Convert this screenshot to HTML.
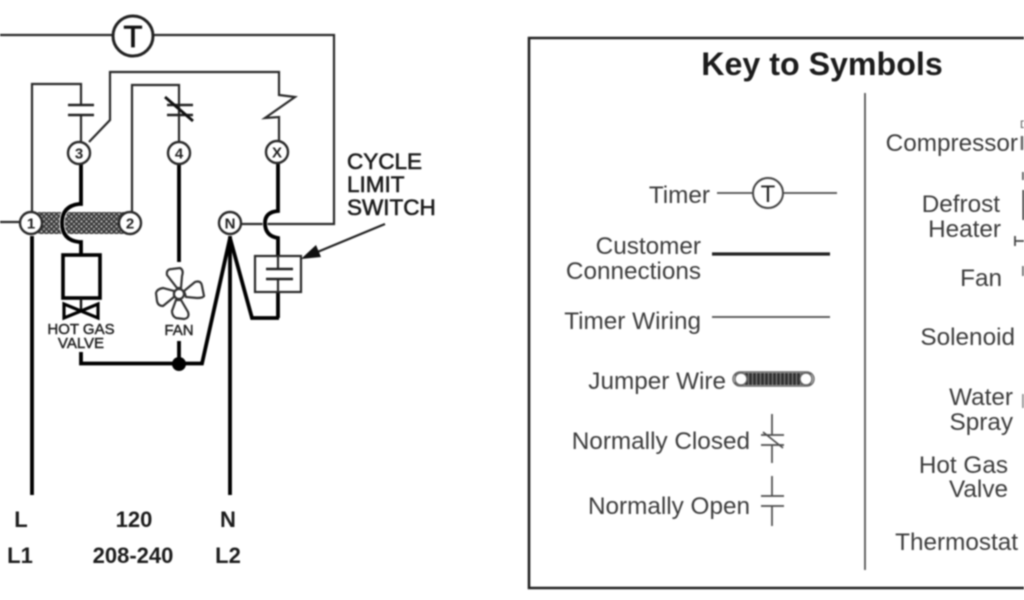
<!DOCTYPE html>
<html><head><meta charset="utf-8"><style>
html,body{margin:0;padding:0;background:#fff;width:1024px;height:600px;overflow:hidden}
svg{display:block;filter:blur(0.7px)}
text{font-family:"Liberation Sans",sans-serif}
.k{font-size:24.3px;fill:#3c3c3c}
.b{font-size:22px;font-weight:bold;fill:#1c1c1c;text-anchor:middle}
.s{font-size:15px;fill:#222;text-anchor:middle;stroke:#222;stroke-width:.45}
.c{font-size:15px;font-weight:bold;fill:#222;text-anchor:middle}
.cy{font-size:22.500px;fill:#1c1c1c;stroke:#1c1c1c;stroke-width:.6}
.t{fill:none;stroke:#2a2a2a;stroke-width:2.200}
.h{fill:none;stroke:#000;stroke-width:3.800}
.o{fill:#fff;stroke:#2a2a2a;stroke-width:2.400}
.g{fill:none;stroke:#4c4c4c;stroke-width:1.700}
</style></head><body>
<svg width="1024" height="600" viewBox="0 0 1024 600" xmlns="http://www.w3.org/2000/svg">
<defs><pattern id="p" width="5" height="5" patternUnits="userSpaceOnUse"><rect width="5" height="5" fill="#3a3a3a"/><circle cx="1.500" cy="1.500" r="1.100" fill="#bbb"/><circle cx="4" cy="4" r="1.100" fill="#aaa"/></pattern>
<pattern id="q" width="4" height="4" patternUnits="userSpaceOnUse"><rect width="4" height="4" fill="#333"/><rect x="0" y="0" width="1" height="4" fill="#888"/></pattern></defs>
<rect width="1024" height="600" fill="#fff"/>
<!-- timer loop -->
<path class="t" d="M0 35H112M154 35H334V224H242"/>
<circle cx="133" cy="36" r="20" fill="#fff" stroke="#222" stroke-width="3"/>
<text x="133" y="47" text-anchor="middle" style="font-size:31px;fill:#111;stroke:#111;stroke-width:.8">T</text>
<!-- wiring -->
<path class="t" d="M32 212V84H81V105M81 115V142"/>
<path d="M68 105H94M68 115H94" fill="none" stroke="#222" stroke-width="2.600"/>
<path class="t" d="M132 212V85H179V142"/>
<path d="M167 105H193M167 115H193" fill="none" stroke="#222" stroke-width="2.600"/>
<path d="M165 97L193 121" fill="none" stroke="#111" stroke-width="2.800"/>
<path class="t" d="M89 142L110 120V72H279V95L295 97L265 118L279 117V142"/>
<!-- jumper band -->
<rect x="38" y="212" width="92" height="22" fill="url(#p)"/>
<path class="t" d="M0 222H20"/>
<!-- hot gas jump -->
<path d="M81 204H79Q62 206 62 223Q62 240 79 242H81" fill="none" stroke="#fff" stroke-width="5.500"/>
<path class="h" d="M81 164V204H79Q62 206 62 223Q62 240 79 242H81V255"/>
<!-- fan wire -->
<path class="h" d="M179 164V262"/>
<path class="h" d="M32 236V495M230 236V495"/>
<path class="h" d="M179 341V364M81 352V363.500H202L230 238L252 318H279"/>
<circle cx="179" cy="364" r="7" fill="#000"/>
<!-- x jump -->
<path d="M278 211Q265 212 265 223Q265 236 278 238" fill="none" stroke="#fff" stroke-width="5"/>
<path class="h" d="M278 164V211Q265 212 265 223Q265 236 278 238V256M278 292V318"/>
<rect class="t" x="255" y="256" width="46" height="36"/>
<path class="t" d="M278 256V268M278 280V292"/>
<path d="M266 269H293M266 279H293" stroke="#222" stroke-width="2.600"/>
<!-- arrow -->
<path d="M385 224L315 253" stroke="#222" stroke-width="2.200" fill="none"/>
<path d="M301 259L316 245L321 257Z" fill="#111"/>
<!-- hot gas valve -->
<rect x="63" y="255" width="37" height="43" fill="#fff" stroke="#000" stroke-width="3.600"/>
<path d="M81 298V310" stroke="#111" stroke-width="2.400"/>
<path d="M64 304V318L98 304V318Z" fill="#fff" stroke="#000" stroke-width="3.200"/>
<text class="s" x="81" y="334">HOT GAS</text>
<text class="s" x="81" y="348">VALVE</text>
<!-- fan -->
<g fill="#fff" stroke="#333" stroke-width="2.200">
<path d="M177 288L167 275Q166 269 172 269L180 268Q184 270 182 276L181 288Z"/>
<path d="M184 291L195 282Q201 280 202 286L204 296Q203 298 197 298L186 297Z"/>
<path d="M181 300L188 312Q190 318 184 319L176 318Q172 316 172 311L176 300Z"/>
<path d="M174 297L163 306Q158 306 157 301L156 293Q157 289 163 288L174 291Z"/>
<circle cx="179" cy="294" r="5"/>
</g>
<text class="s" x="179" y="335">FAN</text>
<!-- nodes -->
<g>
<circle class="o" cx="31" cy="223" r="11"/><text class="c" x="31" y="228.500">1</text>
<circle class="o" cx="130" cy="223" r="11"/><text class="c" x="130" y="228.500">2</text>
<circle class="o" cx="79" cy="153" r="11"/><text class="c" x="79" y="158.500">3</text>
<circle class="o" cx="179" cy="153" r="11"/><text class="c" x="179" y="158.500">4</text>
<circle class="o" cx="277" cy="152" r="11"/><text class="c" x="277" y="157.500">X</text>
<circle class="o" cx="230" cy="223" r="11"/><text class="c" x="230" y="228.500">N</text>
</g>
<text class="cy" x="347" y="169">CYCLE</text>
<text class="cy" x="347" y="192">LIMIT</text>
<text class="cy" x="347" y="215">SWITCH</text>
<text class="b" x="21" y="527">L</text>
<text class="b" x="134" y="527">120</text>
<text class="b" x="228" y="527">N</text>
<text class="b" x="20" y="563">L1</text>
<text class="b" x="133" y="563">208-240</text>
<text class="b" x="228" y="563">L2</text>
<!-- key -->
<path d="M1026 38H529V588H1026" fill="none" stroke="#222" stroke-width="2.600"/>
<text x="822" y="75" text-anchor="middle" style="font-size:32.200px;font-weight:bold;fill:#1c1c1c">Key to Symbols</text>
<path d="M865 93V570" stroke="#4c4c4c" stroke-width="1.700"/>
<g text-anchor="end">
<text class="k" x="710" y="203">Timer</text>
<text class="k" x="701" y="254">Customer</text>
<text class="k" x="701" y="279">Connections</text>
<text class="k" x="701" y="329">Timer Wiring</text>
<text class="k" x="726" y="389">Jumper Wire</text>
<text class="k" x="750" y="449">Normally Closed</text>
<text class="k" x="750" y="514">Normally Open</text>
<text class="k" x="1018" y="151">Compressor</text>
<text class="k" x="1000" y="212">Defrost</text>
<text class="k" x="1001" y="237">Heater</text>
<text class="k" x="1002" y="286">Fan</text>
<text class="k" x="1015" y="345">Solenoid</text>
<text class="k" x="1013" y="405">Water</text>
<text class="k" x="1013" y="430">Spray</text>
<text class="k" x="1008" y="473">Hot Gas</text>
<text class="k" x="1008" y="497">Valve</text>
<text class="k" x="1018" y="550">Thermostat</text>
</g>
<path class="g" d="M717 193H753M784 193H837"/>
<circle cx="768" cy="193" r="15" fill="#fff" stroke="#444" stroke-width="2"/>
<text x="768" y="202" text-anchor="middle" style="font-size:24px;fill:#222">T</text>
<path d="M712 254H830" stroke="#222" stroke-width="3.200"/>
<path class="g" d="M712 317H830"/>
<rect x="735" y="373" width="76" height="12" fill="url(#q)"/>
<rect x="733" y="372" width="81" height="14" rx="7" fill="none" stroke="#666" stroke-width="1.400"/>
<circle cx="741" cy="379" r="6" fill="#fff" stroke="#666" stroke-width="1.400"/>
<circle cx="806" cy="379" r="6" fill="#fff" stroke="#666" stroke-width="1.400"/>
<path class="g" d="M772 414V435M772 445V463M761 435H784M761 445H784M763 432L783 448"/>
<path class="g" d="M772 476V496M772 506V526M761 496H784M761 506H784"/>
<!-- clipped symbols at right edge -->
<text x="1020" y="128" style="font-size:11px;fill:#555">D</text>
<path d="M1022 136V150" stroke="#666" stroke-width="2.500"/>
<path d="M1024 190V220" stroke="#222" stroke-width="3"/>
<path d="M1015 236V246M1015 241H1024" stroke="#444" stroke-width="1.800"/>
<path d="M1023 266V276" stroke="#777" stroke-width="2"/>
<path d="M1023 172V180" stroke="#666" stroke-width="2"/>
<path d="M1023 394V408" stroke="#999" stroke-width="2"/>
</svg>
</body></html>
